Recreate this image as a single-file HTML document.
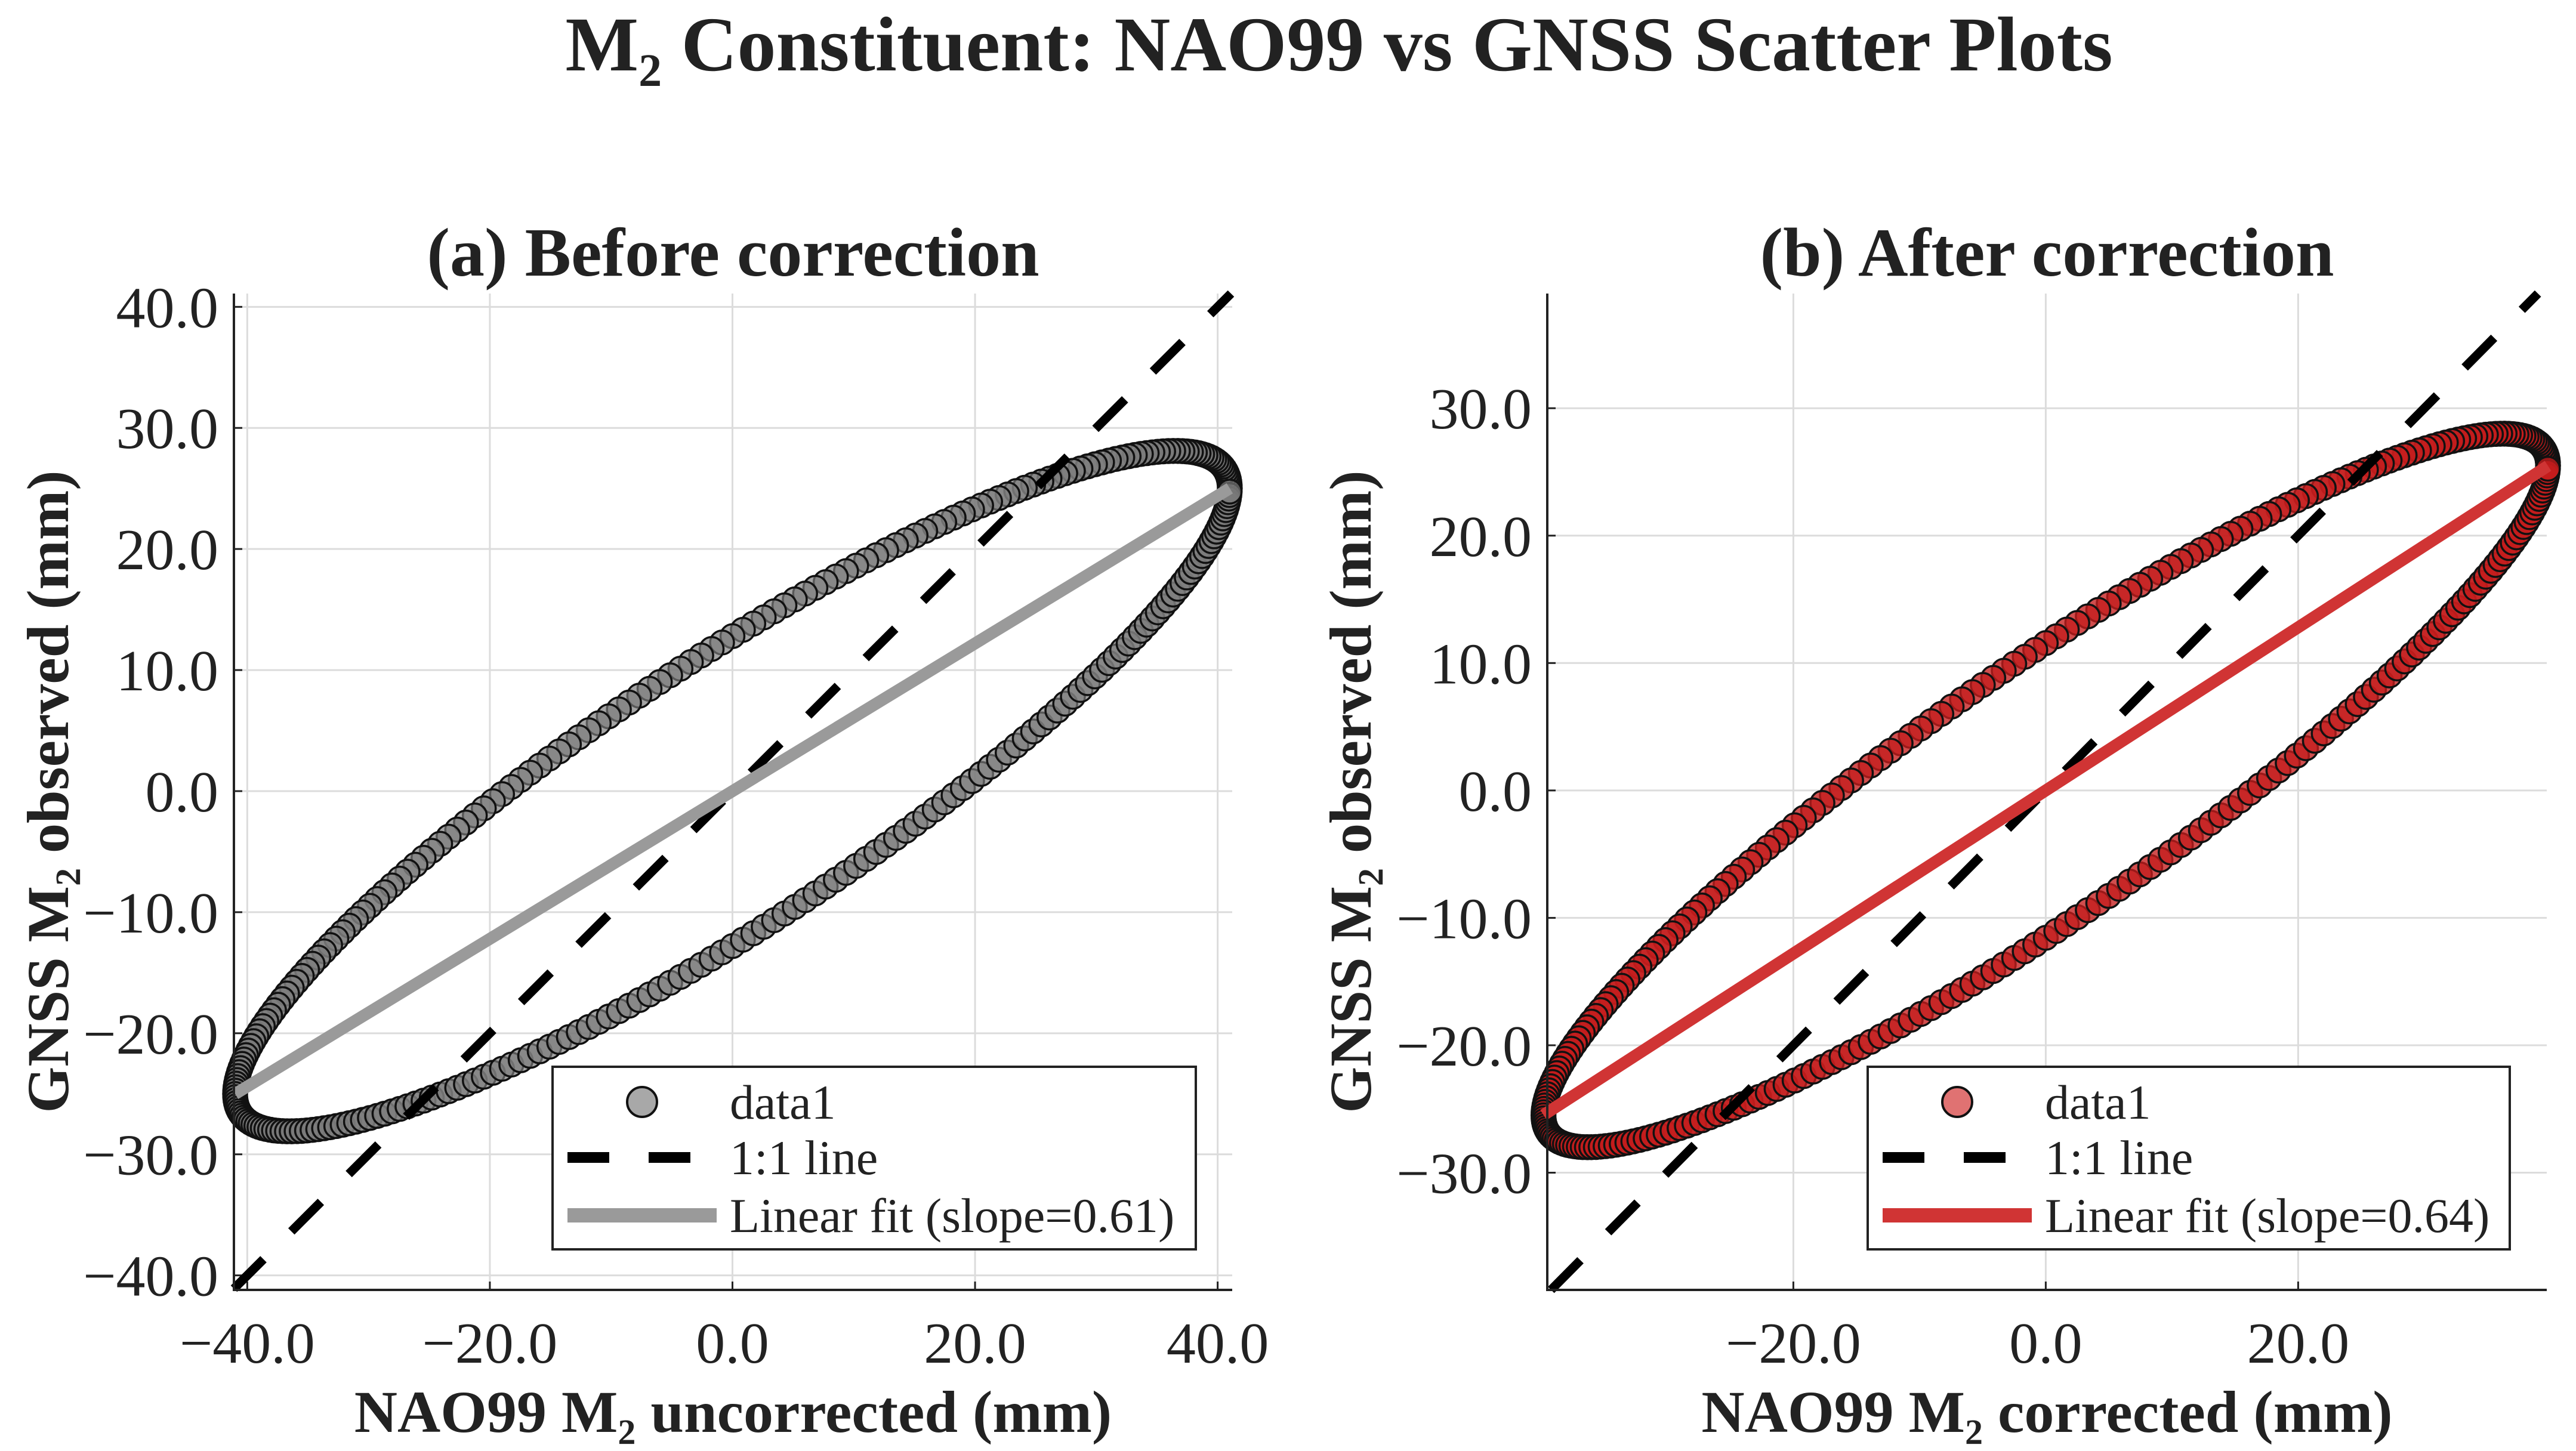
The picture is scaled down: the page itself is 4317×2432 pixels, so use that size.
<!DOCTYPE html>
<html><head><meta charset="utf-8">
<style>
html,body{margin:0;padding:0;background:#fff;}
svg{display:block;font-family:"Liberation Serif",serif;}
</style></head>
<body>
<svg id="chart" width="4317" height="2432" viewBox="0 0 4317 2432" xmlns="http://www.w3.org/2000/svg">
<rect width="4317" height="2432" fill="#fff"/>
<text x="2244" y="118" text-anchor="middle" font-size="130" font-weight="bold" fill="#222">M₂ Constituent: NAO99 vs GNSS Scatter Plots</text>
<g id="pa"></g>
<g id="pb"></g>
</svg>
<script>
// ---- data ----
const panelIds = ['a','b'];
const panelTitles = ['(a) Before correction','(b) After correction'];
const xLabels = ['NAO99 M₂ uncorrected (mm)','NAO99 M₂ corrected (mm)'];
const yLabel = 'GNSS M₂ observed (mm)';
const xAmplitude = [41.0, 39.8];      // mm, NAO99 amplitude of projected signal
const yAmplitude = [28.1, 28.0];      // mm, GNSS amplitude
const phaseLagDeg = [27.1, 24.4];     // phase lag between series
const fitSlopes = [0.61, 0.64];
const fitLabels = ['Linear fit (slope=0.61)','Linear fit (slope=0.64)'];
const xTicksA = [-40,-20,0,20,40];
const yTicksA = [-40,-30,-20,-10,0,10,20,30,40];
const xTicksB = [-20,0,20];
const yTicksB = [-30,-20,-10,0,10,20,30];
const xLims = [[-41.1,41.2],[-39.5,39.7]];
const yLims = [[-41.2,41.1],[-39.2,39.0]];
const sampleCount = [300, 300];

const NS='http://www.w3.org/2000/svg';
function mk(tag, attrs, parent){
  const e=document.createElementNS(NS,tag);
  for(const k in attrs) e.setAttribute(k,attrs[k]);
  parent.appendChild(e); return e;
}
const layouts=[
  {x0:392,x1:2065,y0:492,y1:2162,ylabX:80,leg:{x:926,y:1788,w:1078,h:306}},
  {x0:2593,x1:4268,y0:492,y1:2162,ylabX:2263,leg:{x:3130,y:1788,w:1076,h:306}}
];
const styles=[
  {fill:'#7a7a7a',op:0.68,line:'#9a9a9a',legFill:'#a8a8a8'},
  {fill:'#c41c1c',op:0.78,line:'#d03434',legFill:'#e07272'}
];
const xTickSets=[xTicksA,xTicksB], yTickSets=[yTicksA,yTicksB];

panelIds.forEach((id,p)=>{
  const L=layouts[p], S=styles[p];
  const g=document.getElementById('p'+id);
  const [xa,xb]=xLims[p], [ya,yb]=yLims[p];
  const sx=v=>L.x0+(v-xa)/(xb-xa)*(L.x1-L.x0);
  const sy=v=>L.y1-(v-ya)/(yb-ya)*(L.y1-L.y0);
  xTickSets[p].forEach(v=>{
    const l=mk('line',{x1:sx(v),x2:sx(v),y1:L.y0,y2:L.y1,stroke:'#dcdcdc','stroke-width':3},g);
    
    
    const t=mk('text',{x:sx(v),y:L.y1+122,'text-anchor':'middle','font-size':98,fill:'#222'},g);
    
    
    t.textContent=(v<0?'\u2212':'')+Math.abs(v).toFixed(1);
    const tk=mk('line',{x1:sx(v),x2:sx(v),y1:L.y1,y2:L.y1-14,stroke:'#222','stroke-width':3},g);
    
    
  });
  yTickSets[p].forEach(v=>{
    const l=mk('line',{x1:L.x0,x2:L.x1,y1:sy(v),y2:sy(v),stroke:'#dcdcdc','stroke-width':3},g);
    
    
    const t=mk('text',{x:L.x0-26,y:sy(v)+34,'text-anchor':'end','font-size':98,fill:'#222'},g);
    
    
    t.textContent=(v<0?'\u2212':'')+Math.abs(v).toFixed(1);
    const tk=mk('line',{x1:L.x0,x2:L.x0+14,y1:sy(v),y2:sy(v),stroke:'#222','stroke-width':3},g);
    
    
  });
  const sg=mk('g',{},g);
  
  
  const N=sampleCount[p], ph=phaseLagDeg[p]*Math.PI/180;
  let xmin=1e9,xmax=-1e9;
  for(let i=0;i<N;i++){
    const t=2*Math.PI*i/N;
    const xv=xAmplitude[p]*Math.cos(t), yv=yAmplitude[p]*Math.cos(t-ph);
    xmin=Math.min(xmin,xv); xmax=Math.max(xmax,xv);
    const c=mk('circle',{cx:sx(xv),cy:sy(yv),r:20,fill:S.fill,'fill-opacity':S.op,stroke:'#111','stroke-width':3.5},sg);
    
    
  }
  const lo=Math.max(xa,ya), hi=Math.min(xb,yb);
  const d=mk('line',{x1:sx(lo),y1:sy(lo),x2:sx(hi),y2:sy(hi),stroke:'#000','stroke-width':15,'stroke-dasharray':'70 66'},g);
  
  
  const f=mk('line',{x1:sx(xmin),y1:sy(fitSlopes[p]*xmin),x2:sx(xmax),y2:sy(fitSlopes[p]*xmax),stroke:S.line,'stroke-width':20},g);
  
  
  const ax=mk('path',{d:`M${L.x0},${L.y0} V${L.y1} H${L.x1}`,fill:'none',stroke:'#222','stroke-width':4},g);
  
  
  const tt=mk('text',{x:(L.x0+L.x1)/2,y:462,'text-anchor':'middle','font-size':116,'font-weight':'bold',fill:'#222'},g);
  
  
  tt.textContent=panelTitles[p];
  const xl=mk('text',{x:(L.x0+L.x1)/2,y:2400,'text-anchor':'middle','font-size':100,'font-weight':'bold',fill:'#222'},g);
  
  
  xl.textContent=xLabels[p];
  const yc=(L.y0+L.y1)/2;
  const yl=mk('text',{x:L.ylabX,y:yc,'text-anchor':'middle','font-size':100,'font-weight':'bold',fill:'#222',transform:`rotate(-90 ${L.ylabX} ${yc}) translate(0 34)`},g);
  
  
  yl.textContent=yLabel;
  const lg=mk('g',{},g);
  
  
  const Lg=L.leg;
  mk('rect',{x:Lg.x,y:Lg.y,width:Lg.w,height:Lg.h,fill:'#fff',stroke:'#222','stroke-width':4},lg);
  const sx0=Lg.x+25, sx1=Lg.x+275, tx=Lg.x+297;
  const rows=[Lg.y+59,Lg.y+152,Lg.y+249];
  const e1=mk('circle',{cx:(sx0+sx1)/2,cy:rows[0],r:25,fill:S.legFill,stroke:'#111','stroke-width':4},lg);
  
  
  const e2=mk('line',{x1:sx0,x2:sx1,y1:rows[1],y2:rows[1],stroke:'#000','stroke-width':18,'stroke-dasharray':'70 66'},lg);
  
  
  const e3=mk('line',{x1:sx0,x2:sx1,y1:rows[2],y2:rows[2],stroke:S.line,'stroke-width':24},lg);
  
  
  ['data1','1:1 line',fitLabels[p]].forEach((s,i)=>{
    const t=mk('text',{x:tx,y:rows[i]+28,'font-size':82,fill:'#222'},lg);
    
    
    t.textContent=s;
  });
});
</script>
</body></html>
